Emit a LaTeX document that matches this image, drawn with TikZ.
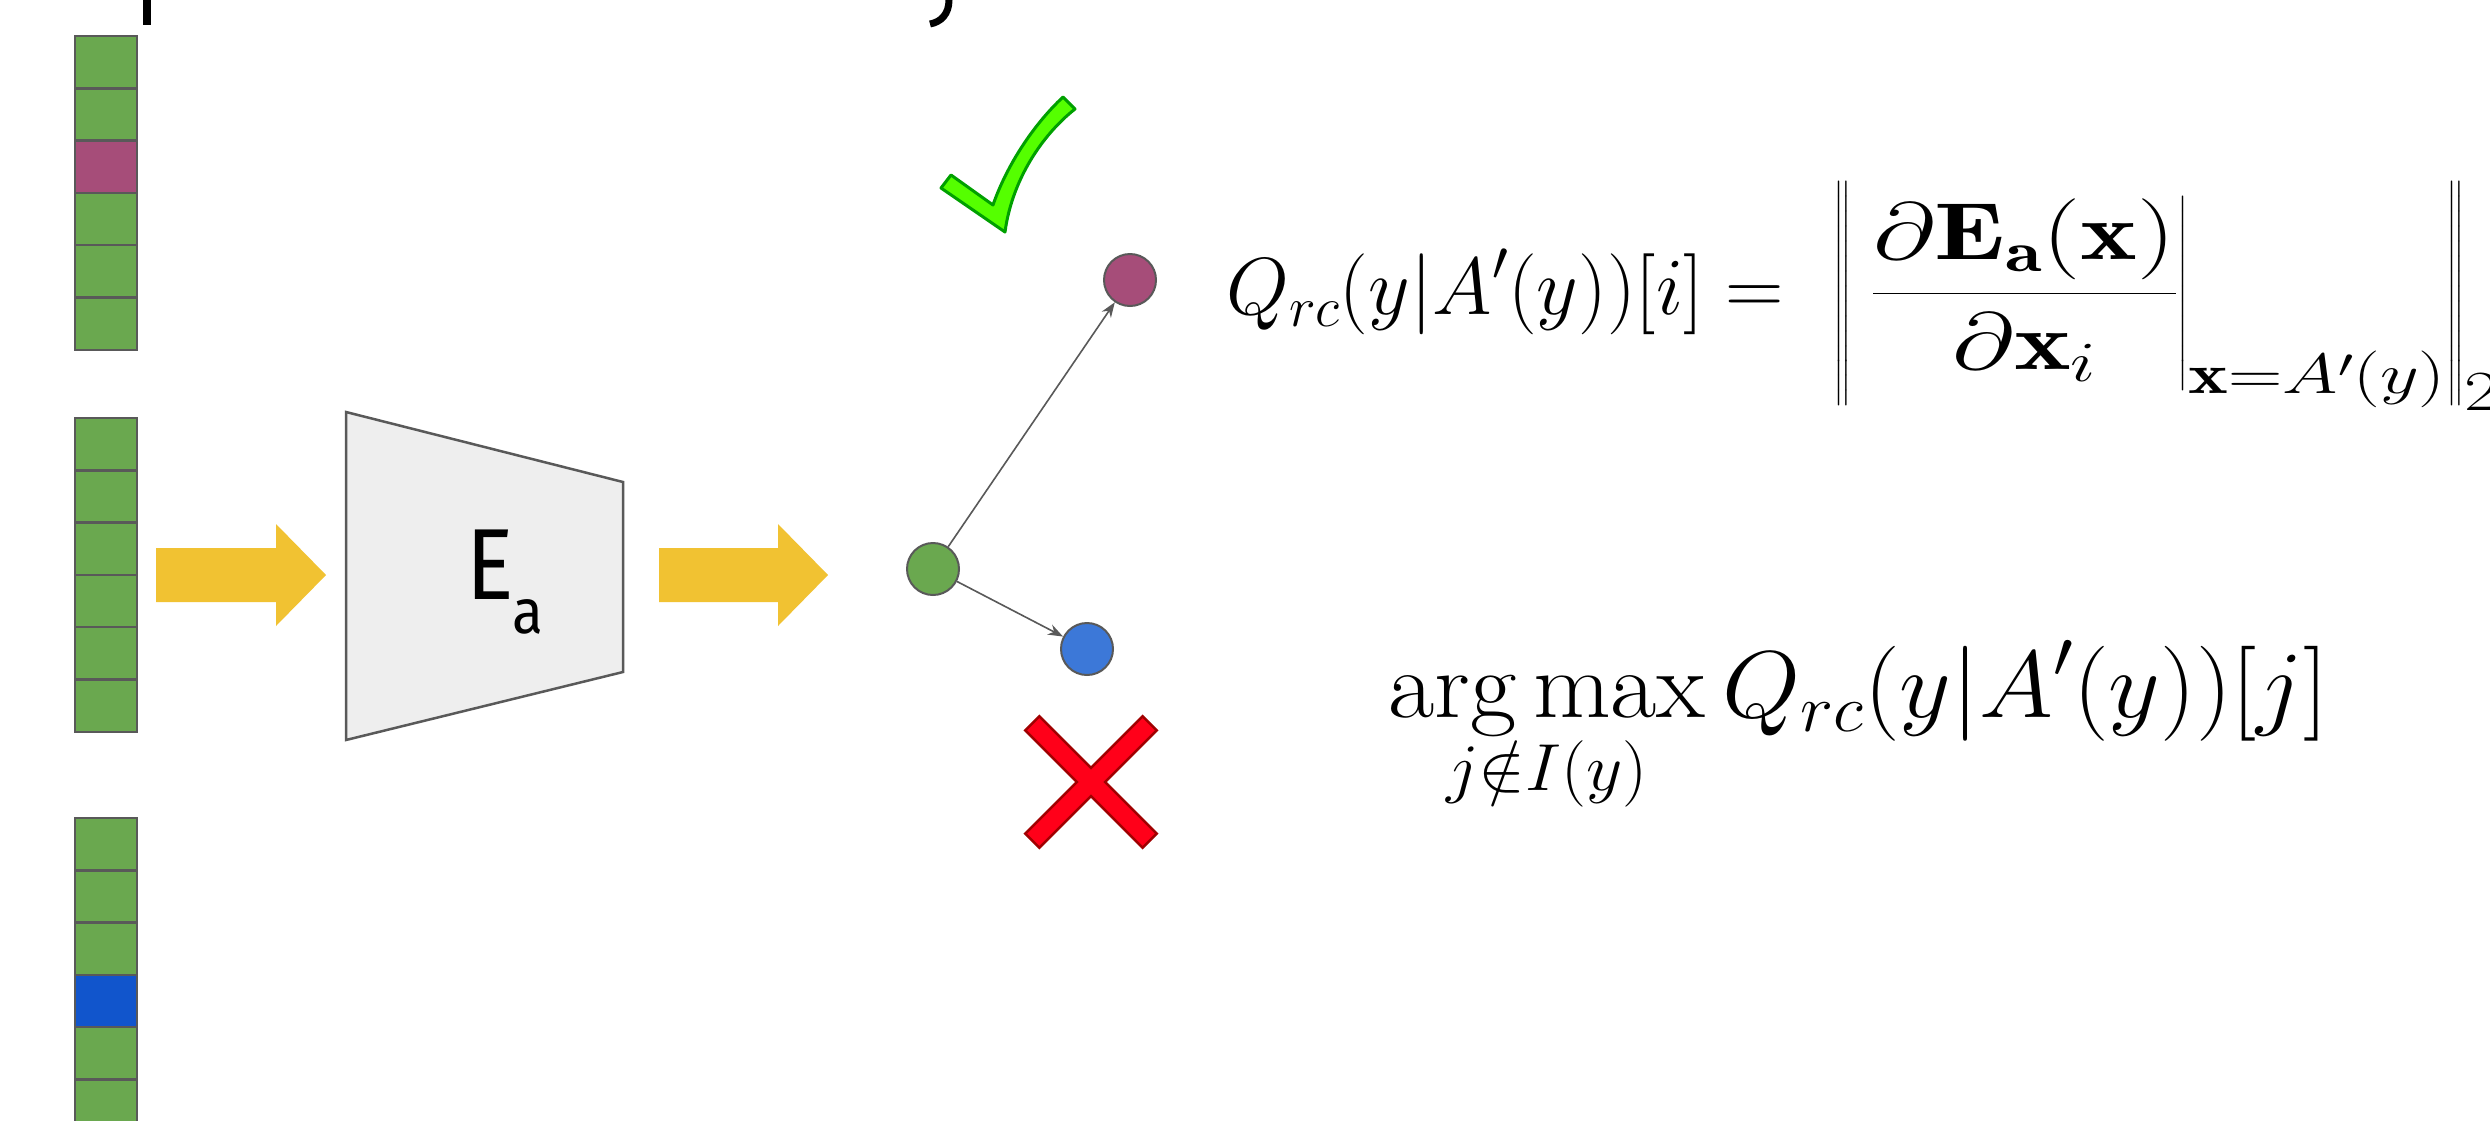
\RequirePackage{fix-cm}
\documentclass[tikz,border=0pt]{standalone}
\usepackage{amsmath}
\usepackage{graphicx}
\usepackage{fontspec}
\newfontfamily\labelfont{Fira Sans}
\usetikzlibrary{arrows.meta}
\definecolor{cellgreen}{HTML}{6AA84F}
\definecolor{cellpurple}{HTML}{A64D79}
\definecolor{cellblue}{HTML}{1155CC}
\definecolor{dotblue}{HTML}{3C78D8}
\definecolor{edgegray}{HTML}{595959}
\definecolor{arrowyellow}{HTML}{F1C232}
\definecolor{boxgray}{HTML}{EEEEEE}
\definecolor{checkfill}{HTML}{55FF00}
\definecolor{checkedge}{HTML}{00A000}
\definecolor{crossfill}{HTML}{FF0019}
\definecolor{crossedge}{HTML}{A00000}
\begin{document}
\begin{tikzpicture}[x=1pt,y=-1pt,
  cell/.style={draw=edgegray,line width=2.5pt,rectangle,inner sep=0pt,minimum width=62pt,minimum height=52.3pt},
  dot/.style={draw=edgegray,line width=2pt,circle,inner sep=0pt,minimum size=52pt},
  bigarrow/.style={fill=arrowyellow},
  link/.style={draw=edgegray,line width=1.6pt,-{Stealth[length=15pt,width=11pt]}},
  encoder/.style={fill=boxgray,draw=edgegray,line width=2.5pt},
  checkmk/.style={fill=checkfill,draw=checkedge,line width=3pt,line join=round},
  crossmk/.style={fill=crossfill,draw=crossedge,line width=2.5pt},
  formula/.style={anchor=base west,inner sep=0pt},
]
\clip (0,0) rectangle (2490,1120);
\fill[white] (0,0) rectangle (2490,1120);

% descenders of the cut-off title
\fill[black] (143,0) rectangle (151,25);
\draw[black,line width=7pt] (949,0) .. controls (949,14) and (941,22) .. (930,24);

% input columns
\foreach \col/\top/\odd/\oddcol in {1/36/3/cellpurple, 2/418/0/cellgreen, 3/818/4/cellblue} {
  \foreach \r in {1,...,6} {
    \pgfmathsetmacro\yc{\top+52.3*(\r-0.5)}
    \ifnum\r=\odd\relax
      \node[cell,fill=\oddcol] (c\col-\r) at (106,\yc) {};
    \else
      \node[cell,fill=cellgreen] (c\col-\r) at (106,\yc) {};
    \fi
  }
}

% yellow arrows
\fill[bigarrow] (156,548) -- (276,548) -- (276,524) -- (326,575) -- (276,626) -- (276,602) -- (156,602) -- cycle;
\fill[bigarrow] (659,548) -- (778,548) -- (778,524) -- (828,575) -- (778,626) -- (778,602) -- (659,602) -- cycle;

% encoder
\draw[encoder] (346,412) -- (623,482) -- (623,672) -- (346,740) -- cycle;
\node[formula] (encE) at (466,599) {\labelfont\fontsize{101}{101}\selectfont\scalebox{0.88}[1]{E}};
\node[formula] (enca) at (512,633) {\labelfont\fontsize{63}{63}\selectfont\scalebox{0.9}[1]{a}};

% embedding points
\node[dot,fill=cellgreen] (g) at (933,569) {};
\node[dot,fill=cellpurple] (p) at (1130,280) {};
\node[dot,fill=dotblue] (b) at (1087,649) {};
\draw[link] (g) -- (p);
\draw[link] (g) -- (b);

% check mark
\draw[checkmk] (941,188) -- (951,175) -- (993,205)
  .. controls (1005,170) and (1030,128) .. (1063,97)
  -- (1075,109)
  .. controls (1042,135) and (1012,180) .. (1005,232) -- cycle;

% cross
\begin{scope}[shift={(1091,782)},rotate=45]
  \draw[crossmk] (10,10) -- (83,10) -- (83,-10) -- (10,-10) -- (10,-83) -- (-10,-83)
    -- (-10,-10) -- (-83,-10) -- (-83,10) -- (-10,10) -- (-10,83) -- (10,83) -- cycle;
\end{scope}

% formulas
\node[formula] (f1) at (1226,314) {\fontsize{81}{90}\selectfont $\displaystyle Q_{rc}(y|A'(y))[i] =\;$\hspace{27pt}\scalebox{1.33}[1]{$\displaystyle \left\|\, \left.\frac{\partial \mathbf{E}_{\mathbf{a}}(\mathbf{x})}{\partial \mathbf{x}_i}\right|_{\mathbf{x}=A'(y)} \right\|_2$}};
\node[formula] (f2) at (1388,717) {\fontsize{95}{105}\selectfont\scalebox{1.06}[1]{$\displaystyle \operatorname*{arg\,max}_{j\notin I(y)} Q_{rc}(y|A'(y))[j]$}};
\end{tikzpicture}
\end{document}
